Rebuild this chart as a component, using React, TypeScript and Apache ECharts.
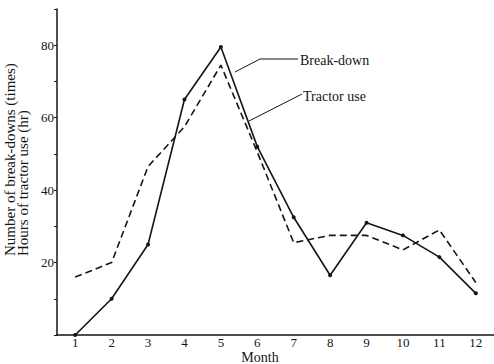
import React, { useEffect, useRef } from "react";
import * as echarts from "echarts";

const months = ["1", "2", "3", "4", "5", "6", "7", "8", "9", "10", "11", "12"];
const breakDowns = [0, 10, 25, 65, 79.5, 52, 32.5, 16.5, 31, 27.5, 21.5, 11.5];
const tractorUse = [16, 20, 46.5, 57.5, 74.5, 50.5, 25.5, 27.5, 27.5, 23.5, 29, 14.5];
const yTitleLines = ["Number of break-downs (times)", "Hours of tractor use (hr)"];
const xTitle = "Month";
const seriesNames = ["Break-down", "Tractor use"];

const FONT = "'Liberation Serif', 'Times New Roman', serif";
const INK = "#151515";

export default function App() {
  const ref = useRef<HTMLDivElement>(null);
  useEffect(() => {
    if (!ref.current) return;
    const chart = echarts.init(ref.current, null, { renderer: "svg" });
    chart.setOption({
      animation: false,
      backgroundColor: "#ffffff",
      grid: { left: 57, right: -1, top: 9, bottom: 29, containLabel: false },
      xAxis: {
        type: "category",
        data: months,
        boundaryGap: true,
        axisLine: { lineStyle: { color: INK, width: 1.5 } },
        axisTick: { alignWithLabel: true, length: 3, lineStyle: { color: INK } },
        axisLabel: { color: INK, fontFamily: FONT, fontSize: 13, margin: 1 },
        splitLine: { show: false },
      },
      yAxis: {
        type: "value",
        min: 0,
        max: 90,
        interval: 10,
        axisLine: { show: true, lineStyle: { color: INK, width: 1.5 } },
        axisTick: { show: true, length: 3, lineStyle: { color: INK } },
        axisLabel: {
          color: INK,
          fontFamily: FONT,
          fontSize: 13,
          margin: 3,
          formatter: (v: number) => (v > 0 && v < 90 && v % 20 === 0 ? String(v) : ""),
        },
        splitLine: { show: false },
      },
      series: [
        {
          name: seriesNames[0],
          type: "line",
          data: breakDowns,
          symbol: "circle",
          symbolSize: 4,
          itemStyle: { color: INK },
          lineStyle: { color: INK, width: 1.6 },
        },
        {
          name: seriesNames[1],
          type: "line",
          data: tractorUse,
          symbol: "none",
          lineStyle: { color: INK, width: 1.6, type: [7, 4] },
        },
      ],
      graphic: [
        {
          type: "text",
          x: 10,
          y: 256,
          rotation: Math.PI / 2,
          style: {
            text: yTitleLines[0],
            fill: INK,
            font: `15px ${FONT}`,
            align: "left",
            verticalAlign: "middle",
          },
        },
        {
          type: "text",
          x: 23,
          y: 256,
          rotation: Math.PI / 2,
          style: {
            text: yTitleLines[1],
            fill: INK,
            font: `15px ${FONT}`,
            align: "left",
            verticalAlign: "middle",
          },
        },
        {
          type: "text",
          x: 260,
          y: 357,
          style: {
            text: xTitle,
            fill: INK,
            font: `14px ${FONT}`,
            align: "center",
            verticalAlign: "middle",
          },
        },
        {
          type: "polyline",
          shape: { points: [[235, 72], [260, 59], [298, 59]] },
          style: { stroke: INK, lineWidth: 1, fill: "none" },
        },
        {
          type: "text",
          x: 300,
          y: 60,
          style: {
            text: seriesNames[0],
            fill: INK,
            font: `14px ${FONT}`,
            align: "left",
            verticalAlign: "middle",
          },
        },
        {
          type: "polyline",
          shape: { points: [[249, 121], [302, 94]] },
          style: { stroke: INK, lineWidth: 1, fill: "none" },
        },
        {
          type: "text",
          x: 303,
          y: 96,
          style: {
            text: seriesNames[1],
            fill: INK,
            font: `14px ${FONT}`,
            align: "left",
            verticalAlign: "middle",
          },
        },
      ],
    });
    return () => chart.dispose();
  }, []);
  return (
    <div
      ref={ref}
      style={{ position: "fixed", left: 0, top: 0, width: 494, height: 364, background: "#fff" }}
    />
  );
}
